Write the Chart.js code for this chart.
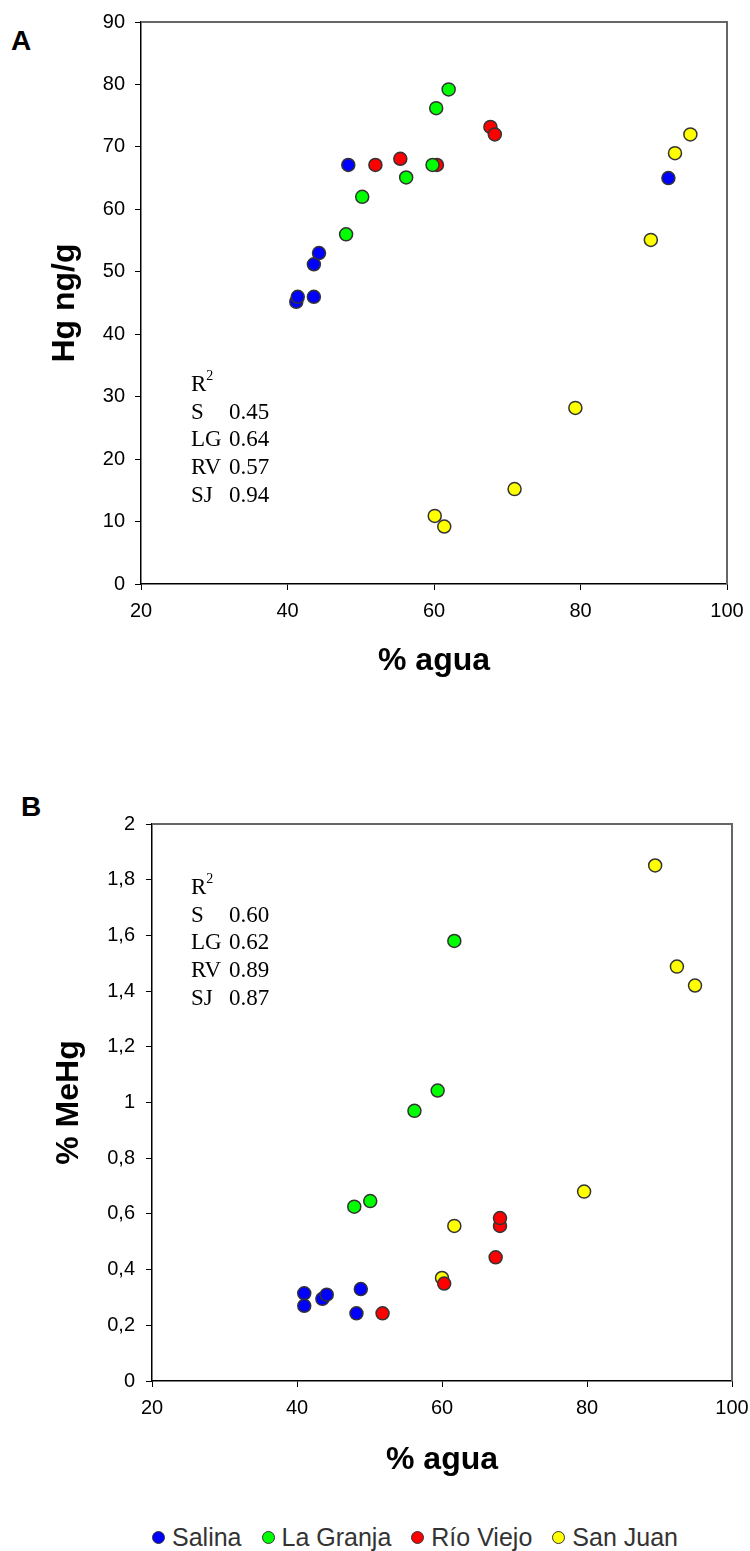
<!DOCTYPE html>
<html lang="es">
<head>
  <meta charset="UTF-8">
  <title>Hg y MeHg vs % agua</title>
  <script src="https://cdn.jsdelivr.net/npm/chart.js"></script>
  <style>
    html, body {
      margin: 0;
      background: #fff;
      font-family: "Liberation Sans", Arial, sans-serif;
    }
    #page { position: relative; width: 750px; height: 1551px; overflow: hidden; }
    canvas { position: absolute; left: 0; }
    .panel { position: absolute; font-weight: bold; font-size: 28px; line-height: 28px; }
    .r2 {
      position: absolute;
      font-family: "Liberation Serif", "Times New Roman", serif;
      font-size: 23px;
      line-height: 27.7px;
      color: #000;
    }
    .r2 .k { display: inline-block; width: 38px; }
    .r2 sup { font-size: 14px; line-height: 0; position: relative; top: -2px; }
    #legend {
      position: absolute; left: 152px; top: 1522px; height: 30px;
      display: flex; align-items: center;
      font-size: 25px; color: #333;
    }
    #legend .item { display: flex; align-items: center; margin-right: 20px; }
    #legend .dot {
      width: 11px; height: 11px; border-radius: 50%;
      border: 1.5px solid #333; margin-right: 7px;
    }
  </style>
</head>
<body>
<div id="page">
  <div class="panel" style="left:11px; top:27px;">A</div>
  <div class="panel" style="left:21px; top:793px;">B</div>

  <canvas id="chartA" width="750" height="720" style="top:0;"></canvas>
  <canvas id="chartB" width="750" height="760" style="top:720px;"></canvas>

  <div class="r2" id="r2A" style="left:191px; top:370px;"></div>
  <div class="r2" id="r2B" style="left:191px; top:873px;"></div>

  <div id="legend"></div>
</div>

<script>
// series names and colours
const seriesNames = ['Salina', 'La Granja', 'Río Viejo', 'San Juan'];
const seriesColors = ['#0000FF', '#00FF00', '#FF0000', '#FFFF00'];

// panel A: Hg ng/g vs % agua  [x, y]
const salinaA = [[41.2, 45.2], [41.4, 46.0], [43.6, 46.0], [43.6, 51.2], [44.3, 53.0], [48.3, 67.1], [92.0, 65.0]];
const granjaA = [[48.0, 56.0], [50.2, 62.0], [56.2, 65.1], [59.8, 67.1], [60.3, 76.2], [62.0, 79.2]];
const rioA    = [[52.0, 67.1], [55.4, 68.1], [60.4, 67.1], [67.7, 73.2], [68.3, 72.0]];
const juanA   = [[60.1, 10.9], [61.4, 9.2], [71.0, 15.2], [79.3, 28.2], [89.6, 55.1], [92.9, 69.0], [95.0, 72.0]];

// panel B: % MeHg vs % agua
const salinaB = [[41.0, 0.315], [41.0, 0.27], [43.5, 0.295], [44.1, 0.31], [48.2, 0.243], [48.8, 0.33]];
const granjaB = [[47.9, 0.626], [50.1, 0.646], [56.2, 0.97], [59.4, 1.043], [61.7, 1.58]];
const rioB    = [[51.8, 0.243], [60.3, 0.35], [67.4, 0.444], [68.0, 0.557], [68.0, 0.585]];
const juanB   = [[60.0, 0.37], [61.7, 0.557], [79.6, 0.68], [89.4, 1.851], [92.4, 1.488], [94.9, 1.42]];

// tick labels
const xTicks  = ['20', '40', '60', '80', '100'];
const yTicksA = ['0', '10', '20', '30', '40', '50', '60', '70', '80', '90'];
const yTicksB = ['0', '0,2', '0,4', '0,6', '0,8', '1', '1,2', '1,4', '1,6', '1,8', '2'];

// R² annotations
const r2Labels = ['S', 'LG', 'RV', 'SJ'];
const r2A = ['0.45', '0.64', '0.57', '0.94'];
const r2B = ['0.60', '0.62', '0.89', '0.87'];


Chart.defaults.font.family = '"Liberation Sans", Arial, sans-serif';
Chart.defaults.color = '#000';

// gray box on top / right of the plot area
const boxPlugin = {
  id: 'box',
  beforeDatasetsDraw(chart) {
    const { ctx, chartArea: a } = chart;
    ctx.save();
    ctx.strokeStyle = '#666';
    ctx.lineWidth = 2;
    ctx.beginPath();
    ctx.moveTo(a.left, a.top);
    ctx.lineTo(a.right, a.top);
    ctx.lineTo(a.right, a.bottom);
    ctx.stroke();
    ctx.restore();
  }
};

function makeDatasets(lists) {
  return lists.map((pts, i) => ({
    label: seriesNames[i],
    data: pts.map(p => ({ x: p[0], y: p[1] })),
    backgroundColor: seriesColors[i],
    borderColor: '#333',
    borderWidth: 1.5,
    pointRadius: 6.5,
    pointHoverRadius: 6.5
  }));
}

function makeChart(id, lists, cfg) {
  return new Chart(document.getElementById(id), {
    type: 'scatter',
    data: { datasets: makeDatasets(lists) },
    plugins: [boxPlugin],
    options: {
      responsive: false,
      animation: false,
      layout: { padding: { top: cfg.padTop, right: cfg.padRight, left: 0, bottom: 0 } },
      plugins: { legend: { display: false }, tooltip: { enabled: false } },
      scales: {
        x: {
          type: 'linear', min: 20, max: 100,
          afterFit: s => { s.height = cfg.xHeight; s.paddingLeft = 0; s.paddingRight = 0; },
          border: { color: '#000', width: 1.5 },
          grid: { drawOnChartArea: false, color: '#000', tickLength: 6 },
          ticks: {
            stepSize: 20, padding: 9, font: { size: 20 },
            callback: (v, i) => xTicks[i]
          },
          title: {
            display: true, text: '% agua',
            font: { size: 32, weight: 'bold' },
            padding: { top: 0, bottom: cfg.xTitlePad }
          }
        },
        y: {
          type: 'linear', min: 0, max: cfg.yMax,
          afterFit: s => { s.width = cfg.yWidth; s.paddingTop = 0; s.paddingBottom = 0; },
          border: { color: '#000', width: 1.5 },
          grid: { drawOnChartArea: false, color: '#000', tickLength: 6 },
          ticks: {
            stepSize: cfg.yStep, padding: cfg.yTickPad, font: { size: 20 },
            callback: (v, i) => cfg.yLabels[i]
          },
          title: {
            display: true, text: cfg.yTitle,
            font: { size: 32, weight: 'bold' },
            padding: { top: cfg.yTitlePad, bottom: 0 }
          }
        }
      }
    }
  });
}

makeChart('chartA', [salinaA, granjaA, rioA, juanA], {
  padTop: 22, padRight: 23, xHeight: 136, yWidth: 141,
  xTitlePad: 40, yTitlePad: 46, yTickPad: 10,
  yMax: 90, yStep: 10, yLabels: yTicksA, yTitle: 'Hg ng/g'
});

makeChart('chartB', [salinaB, granjaB, rioB, juanB], {
  padTop: 104, padRight: 18, xHeight: 99, yWidth: 152,
  xTitlePad: 1, yTitlePad: 50, yTickPad: 11,
  yMax: 2, yStep: 0.2, yLabels: yTicksB, yTitle: '% MeHg'
});

// R² blocks
function fillR2(id, values) {
  let html = '<div>R<sup>2</sup></div>';
  r2Labels.forEach((k, i) => {
    html += `<div><span class="k">${k}</span>${values[i]}</div>`;
  });
  document.getElementById(id).innerHTML = html;
}
fillR2('r2A', r2A);
fillR2('r2B', r2B);

// shared legend
const legend = document.getElementById('legend');
seriesNames.forEach((name, i) => {
  const item = document.createElement('div');
  item.className = 'item';
  item.innerHTML = `<span class="dot" style="background:${seriesColors[i]}"></span>${name}`;
  legend.appendChild(item);
});
</script>
</body>
</html>
